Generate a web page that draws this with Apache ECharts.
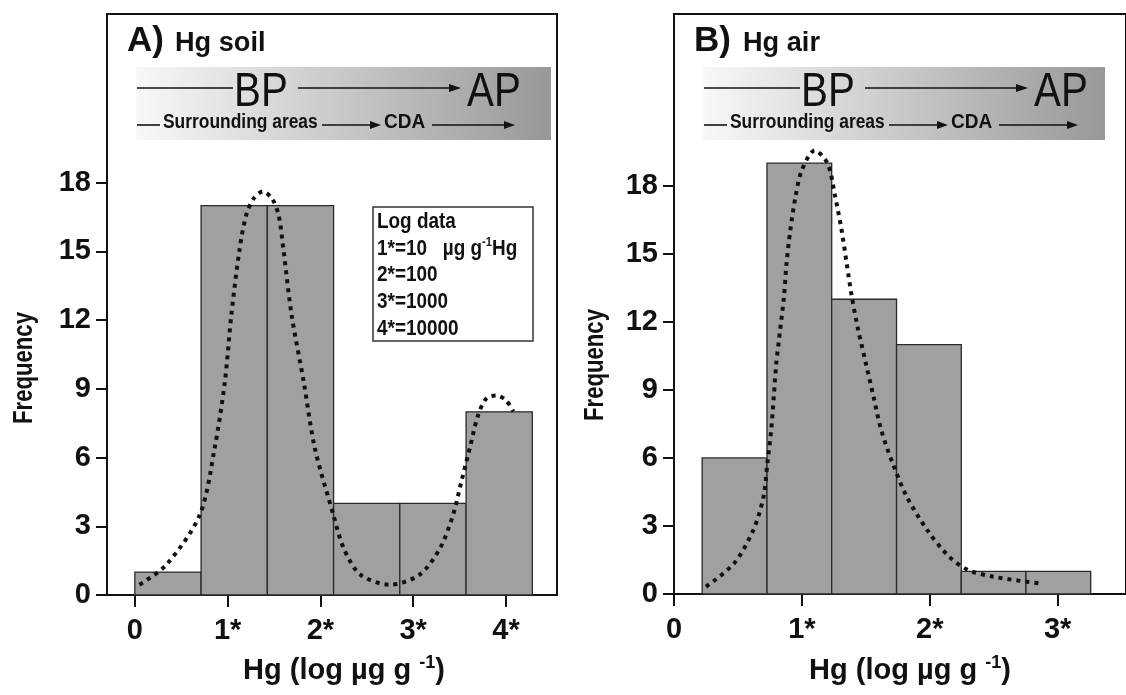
<!DOCTYPE html>
<html>
<head>
<meta charset="utf-8">
<script src="https://cdn.jsdelivr.net/npm/echarts@6/dist/echarts.min.js"></script>
<style>
  html, body { margin: 0; padding: 0; background: #fff; }
  #chart { width: 1126px; height: 695px; }
</style>
</head>
<body>
<div id="chart"></div>
<script>
// histogram bins, panel A (soil)
var soilBinStart = [0, 0.714, 1.428, 2.142, 2.856, 3.57];
var soilBinEnd = [0.714, 1.428, 2.142, 2.856, 3.57, 4.284];
var soilCounts = [1, 17, 17, 4, 4, 8];
// fitted curve, panel A
var soilCurveX = [0.05, 0.34, 0.70, 0.86, 0.97, 1.04, 1.13, 1.20, 1.28, 1.38, 1.48, 1.55, 1.60, 1.69, 1.82, 1.94, 2.14, 2.25, 2.43, 2.75, 3.07, 3.29, 3.43, 3.52, 3.61, 3.70, 3.79, 3.90, 4.00, 4.08];
var soilCurveY = [0.45, 1.32, 3.5, 6.41, 9.31, 12.22, 15.13, 16.58, 17.31, 17.62, 17.3, 16.58, 15.13, 12.22, 9.31, 6.41, 3.5, 2.05, 0.89, 0.45, 0.89, 2.05, 3.5, 4.96, 6.41, 7.86, 8.59, 8.71, 8.5, 8.01];

// histogram bins, panel B (air)
var airBinStart = [0.22, 0.727, 1.233, 1.74, 2.246, 2.752];
var airBinEnd = [0.727, 1.233, 1.74, 2.246, 2.752, 3.258];
var airCounts = [6, 19, 13, 11, 1, 1];
// fitted curve, panel B
var airCurveX = [0.25, 0.47, 0.62, 0.70, 0.73, 0.76, 0.78, 0.80, 0.83, 0.86, 0.88, 0.91, 0.95, 1.0, 1.10, 1.20, 1.26, 1.31, 1.35, 1.39, 1.44, 1.50, 1.56, 1.62, 1.71, 1.82, 1.98, 2.15, 2.30, 2.50, 2.85];
var airCurveY = [0.32, 1.35, 2.82, 4.29, 5.76, 7.23, 8.70, 10.18, 11.65, 13.12, 14.59, 16.06, 17.53, 18.7, 19.56, 19.0, 17.53, 16.06, 14.59, 13.12, 11.65, 10.18, 8.70, 7.23, 5.76, 4.29, 2.82, 1.65, 1.06, 0.76, 0.47];

// ticks
var soilTicksX = [0, 1, 2, 3, 4];
var airTicksX = [0, 1, 2, 3];
var freqTicks = [0, 3, 6, 9, 12, 15, 18];
var legendLines = ['Log data', '1*=10   µg g{sup|-1}Hg', '2*=100', '3*=1000', '4*=10000'];

var SANS = "'Liberation Sans', Arial, sans-serif";

function pairs(xs, ys) {
    var out = [];
    for (var i = 0; i < xs.length; i++) out.push([xs[i], ys[i]]);
    return out;
}
function bins(s, e, c) {
    var out = [];
    for (var i = 0; i < c.length; i++) out.push([s[i], e[i], c[i]]);
    return out;
}

function renderBin(params, api) {
    var p0 = api.coord([api.value(0), api.value(2)]);
    var p1 = api.coord([api.value(1), 0]);
    return {
        type: 'rect',
        shape: { x: p0[0], y: p0[1], width: p1[0] - p0[0], height: p1[1] - p0[1] },
        style: { fill: '#a0a0a0', stroke: '#2a2a2a', lineWidth: 1.3 }
    };
}

function xAxisFor(idx, min, max, ticks) {
    return {
        type: 'value', gridIndex: idx, min: min, max: max,
        axisLine: { show: true, onZero: false, lineStyle: { color: '#111', width: 2 } },
        axisTick: { show: true, customValues: ticks, length: 12, lineStyle: { color: '#111', width: 2 } },
        axisLabel: {
            customValues: ticks, margin: 21, color: '#111',
            fontFamily: SANS, fontWeight: 'bold', fontSize: 29,
            formatter: function (v) { return v === 0 ? '0' : v + '*'; }
        },
        splitLine: { show: false }
    };
}
function yAxisFor(idx, max) {
    return {
        type: 'value', gridIndex: idx, min: 0, max: max,
        axisLine: { show: true, onZero: false, lineStyle: { color: '#111', width: 2 } },
        axisTick: { show: true, customValues: freqTicks, length: 11, lineStyle: { color: '#111', width: 2 } },
        axisLabel: {
            customValues: freqTicks, margin: 16, color: '#111',
            fontFamily: SANS, fontWeight: 'bold', fontSize: 29
        },
        splitLine: { show: false }
    };
}

function line(x1, y1, x2, y2) {
    return { type: 'line', shape: { x1: x1, y1: y1, x2: x2, y2: y2 }, style: { stroke: '#111', lineWidth: 1.6 }, z: 10 };
}
function head(x, y, len, half) {
    return { type: 'polygon', shape: { points: [[x - len, y - half], [x, y], [x - len, y + half]] }, style: { fill: '#111' }, z: 10 };
}
// text squeezed horizontally to look like a narrow face
function txt(x, y, s, size, weight, sx) {
    return {
        type: 'text', x: x, y: y, z: 10, scaleX: sx || 1,
        style: { text: s, fill: '#111', fontSize: size, fontFamily: SANS, fontWeight: weight, align: 'left', verticalAlign: 'middle' }
    };
}

// gradient band "BP -> AP / Surrounding areas -> CDA ->"
function banner(x0, w, lastEnd) {
    return [
        {
            type: 'rect', shape: { x: x0, y: 67, width: w, height: 73 }, z: 5,
            style: { fill: new echarts.graphic.LinearGradient(0, 0, 1, 0, [
                { offset: 0, color: '#f8f8f8' }, { offset: 1, color: '#989898' }
            ]) }
        },
        line(x0 + 1, 88, x0 + 97, 88),
        txt(x0 + 98, 93, 'BP', 48, 'normal', 0.84),
        line(x0 + 162, 88, x0 + 316, 88),
        head(x0 + 325, 88, 12, 4),
        txt(x0 + 331, 93, 'AP', 48, 'normal', 0.84),
        line(x0 + 1, 125, x0 + 24, 125),
        txt(x0 + 27, 122, 'Surrounding areas', 20, 'bold', 0.87),
        line(x0 + 186, 125, x0 + 236, 125),
        head(x0 + 245, 125, 11, 4),
        txt(x0 + 248, 122, 'CDA', 20, 'bold', 0.95),
        line(x0 + 296, 125, lastEnd - 9, 125),
        head(lastEnd, 125, 11, 4)
    ];
}

var graphics = [];
graphics = graphics.concat(banner(136, 415, 136 + 379));
graphics = graphics.concat(banner(703, 402, 703 + 375));
graphics.push(txt(127, 41, 'A)', 35, 'bold'));
graphics.push(txt(175, 43, 'Hg soil', 28, 'bold', 0.97));
graphics.push(txt(694, 41, 'B)', 35, 'bold'));
graphics.push(txt(743, 43, 'Hg air', 28, 'bold', 0.97));

// legend box of panel A
graphics.push({
    type: 'rect', shape: { x: 373, y: 207, width: 160, height: 134 }, z: 10,
    style: { fill: '#fff', stroke: '#333', lineWidth: 1.5 }
});
for (var i = 0; i < legendLines.length; i++) {
    graphics.push({
        type: 'text', x: 377, y: 222 + i * 26.7, z: 11, scaleX: 0.86,
        style: {
            text: legendLines[i], fill: '#111', fontSize: 22, fontFamily: SANS, fontWeight: 'bold',
            verticalAlign: 'middle',
            rich: { sup: { fontSize: 13, fontFamily: SANS, fontWeight: 'bold', fill: '#111', padding: [0, 0, 12, 0] } }
        }
    });
}

// axis titles
function axisTitle(x, y, s, rot, size, sx) {
    return {
        type: 'text', x: x, y: y, rotation: rot, z: 10, scaleX: sx,
        style: {
            text: s, fill: '#111', fontSize: size, fontFamily: SANS, fontWeight: 'bold',
            align: 'center', verticalAlign: 'middle',
            rich: { sup: { fontSize: 18, fontFamily: SANS, fontWeight: 'bold', fill: '#111', padding: [0, 0, 16, 0] } }
        }
    };
}
graphics.push(axisTitle(24, 368, 'Frequency', Math.PI / 2, 28, 0.79));
graphics.push(axisTitle(595, 365, 'Frequency', Math.PI / 2, 28, 0.79));
graphics.push(axisTitle(344, 671, 'Hg (log µg g {sup|-1})', 0, 29, 1));
graphics.push(axisTitle(910, 671, 'Hg (log µg g {sup|-1})', 0, 29, 1));

var myChart = echarts.init(document.getElementById('chart'));
var option = {
    animation: false,
    grid: [
        { left: 107, top: 14, width: 450, height: 581, show: true, borderColor: '#111', borderWidth: 2 },
        { left: 674, top: 14, width: 470, height: 580, show: true, borderColor: '#111', borderWidth: 2 }
    ],
    xAxis: [
        xAxisFor(0, -0.30, 4.55, soilTicksX),
        xAxisFor(1, 0, 3.534, airTicksX)
    ],
    yAxis: [
        yAxisFor(0, 25.37),
        yAxisFor(1, 25.58)
    ],
    series: [
        {
            type: 'custom', xAxisIndex: 0, yAxisIndex: 0,
            renderItem: renderBin, encode: { x: [0, 1], y: 2 },
            data: bins(soilBinStart, soilBinEnd, soilCounts)
        },
        {
            type: 'line', xAxisIndex: 0, yAxisIndex: 0, smooth: 0.3, symbol: 'none', z: 3,
            lineStyle: { color: '#111', width: 4, type: [4, 5], cap: 'butt' },
            data: pairs(soilCurveX, soilCurveY)
        },
        {
            type: 'custom', xAxisIndex: 1, yAxisIndex: 1,
            renderItem: renderBin, encode: { x: [0, 1], y: 2 },
            data: bins(airBinStart, airBinEnd, airCounts)
        },
        {
            type: 'line', xAxisIndex: 1, yAxisIndex: 1, smooth: 0.3, symbol: 'none', z: 3,
            lineStyle: { color: '#111', width: 4, type: [4, 5], cap: 'butt' },
            data: pairs(airCurveX, airCurveY)
        }
    ],
    graphic: graphics
};
myChart.setOption(option);
</script>
</body>
</html>
